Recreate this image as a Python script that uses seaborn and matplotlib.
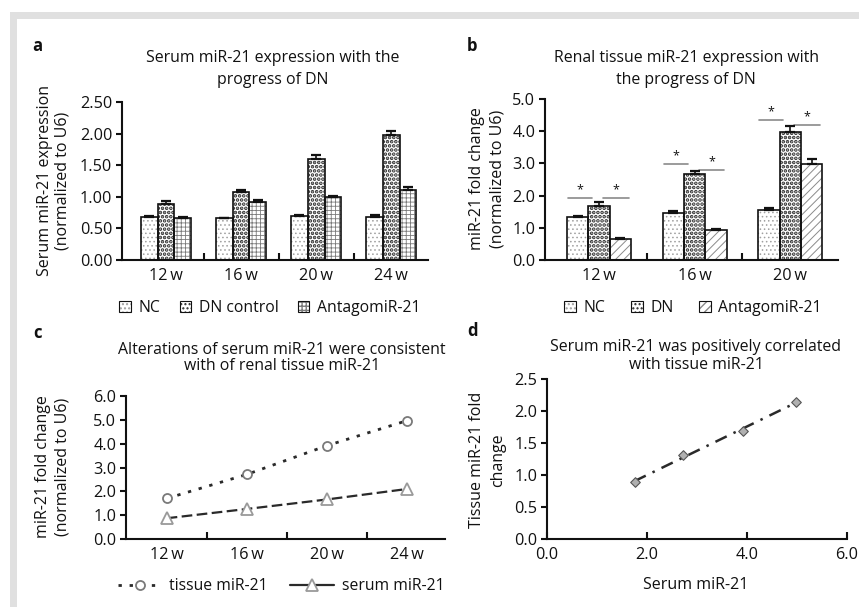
import numpy as np
import pandas as pd
import matplotlib
matplotlib.use("Agg")
import matplotlib.pyplot as plt
import matplotlib.patches as mpatches
from matplotlib.lines import Line2D
from matplotlib.ticker import FormatStrFormatter, FixedLocator
import seaborn as sns

# ---------------- data ----------------
weeks_a = ["12\u2009w", "16\u2009w", "20\u2009w", "24\u2009w"]
groups_a = ["NC", "DN control", "AntagomiR-21"]
nc_a = [0.68, 0.66, 0.70, 0.68]
dn_a = [0.89, 1.07, 1.60, 1.98]
ant_a = [0.67, 0.92, 0.99, 1.11]
nc_a_err = [0.01, 0.01, 0.01, 0.03]
dn_a_err = [0.05, 0.04, 0.06, 0.06]
ant_a_err = [0.01, 0.03, 0.03, 0.05]

weeks_b = ["12\u2009w", "16\u2009w", "20\u2009w"]
groups_b = ["NC", "DN", "AntagomiR-21"]
nc_b = [1.35, 1.45, 1.56]
dn_b = [1.68, 2.66, 3.98]
ant_b = [0.64, 0.93, 2.99]
nc_b_err = [0.02, 0.07, 0.07]
dn_b_err = [0.11, 0.11, 0.19]
ant_b_err = [0.05, 0.02, 0.15]
sig_left_b = [1.94, 2.99, 4.36]
sig_right_b = [1.94, 2.80, 4.18]

weeks_c = ["12\u2009w", "16\u2009w", "20\u2009w", "24\u2009w"]
tissue_c = [1.70, 2.71, 3.92, 4.97]
serum_c = [0.87, 1.26, 1.66, 2.10]

serum_d = [1.75, 2.72, 3.92, 4.97]
tissue_d = [0.89, 1.31, 1.69, 2.14]

# ---------------- style ----------------
sns.set_theme(style="white")
plt.rcParams["font.family"] = ["Open Sans", "DejaVu Sans"]
TXT = "#111111"
plt.rcParams["text.color"] = TXT
plt.rcParams["axes.labelcolor"] = TXT
plt.rcParams["xtick.color"] = TXT
plt.rcParams["ytick.color"] = TXT

W, H = 859, 607
fig = plt.figure(figsize=(W / 100, H / 100), dpi=100)
fig.patch.set_facecolor("white")


def fx(x):
    return x / W


def fy(y):
    return 1 - y / H


def axes_px(l, t, r, b):
    return fig.add_axes([fx(l), fy(b), (r - l) / W, (b - t) / H])


# gray frame
fig.patches.append(mpatches.Rectangle((fx(10), fy(19)), 1, 7 / H, transform=fig.transFigure,
                                      facecolor="#e0e0e0", edgecolor="none", zorder=0))
fig.patches.append(mpatches.Rectangle((fx(10), 0), 7 / W, fy(12), transform=fig.transFigure,
                                      facecolor="#e0e0e0", edgecolor="none", zorder=0))

TICK_FS = 11.7
TITLE_FS = 11.4
LAB_FS = 11.5
LEG_FS = 11.3
SPINE_LW = 1.5


def style_axes(ax):
    sns.despine(ax=ax)
    for s in ["left", "bottom"]:
        ax.spines[s].set_linewidth(SPINE_LW)
        ax.spines[s].set_color(TXT)
    ax.tick_params(axis="y", which="major", direction="out", length=4, width=SPINE_LW,
                   labelsize=TICK_FS, pad=3, left=True)
    ax.grid(False)
    ax.set_xlabel("")
    ax.set_ylabel("")


def cat_ticks(ax, n):
    ax.tick_params(axis="x", which="major", length=0, labelsize=TICK_FS, pad=6)
    ax.xaxis.set_minor_locator(FixedLocator([i + 0.5 for i in range(n - 1)]))
    ax.tick_params(axis="x", which="minor", direction="in", length=5, width=SPINE_LW, bottom=True)


def hatch_bars(ax, styles, errs):
    for cont, (hatch, hcol, hlw), err in zip(ax.containers, styles, errs):
        for bar, e in zip(cont, err):
            bar.set_hatch(hatch)
            bar.set_edgecolor(hcol)
            bar.set_facecolor("white")
            bar.set_linewidth(0)
            if hasattr(bar, "set_hatch_linewidth"):
                bar.set_hatch_linewidth(hlw)
            x, w, h = bar.get_x(), bar.get_width(), bar.get_height()
            ax.add_patch(mpatches.Rectangle((x, 0), w, h, fill=False, edgecolor=TXT,
                                            linewidth=1.2, zorder=3))
            ax.errorbar(x + w / 2, h, yerr=[[0], [e]], fmt="none", ecolor=TXT,
                        elinewidth=1.2, capsize=3.5, capthick=1.6, zorder=4)


def legend_handles(styles):
    hs = []
    for hatch, hcol, hlw in styles:
        p1 = mpatches.Patch(facecolor="white", edgecolor=hcol, hatch=hatch, linewidth=0)
        if hasattr(p1, "set_hatch_linewidth"):
            p1.set_hatch_linewidth(hlw)
        p2 = mpatches.Patch(facecolor="none", edgecolor=TXT, linewidth=0.8)
        hs.append((p1, p2))
    return hs


def two_line(x, y1, y2, l1, l2, **kw):
    fig.text(fx(x), fy(y1), l1, ha="center", va="center", **kw)
    fig.text(fx(x), fy(y2), l2, ha="center", va="center", **kw)


def ylabel2(x1, x2, yc, l1, l2):
    fig.text(fx(x1), fy(yc), l1, rotation=90, ha="center", va="center", fontsize=LAB_FS)
    fig.text(fx(x2), fy(yc), l2, rotation=90, ha="center", va="center", fontsize=LAB_FS)


styles_a = [("....", "#a0a0a0", 0.6), ("....", "#2a2a2a", 1.8), ("++++", "#7a7a7a", 0.6)]
styles_b = [("....", "#a0a0a0", 0.6), ("....", "#2a2a2a", 1.8), ("////", "#8a8a8a", 0.7)]

# ---------------- panel a ----------------
axa = axes_px(122, 102, 428, 260)
df_a = pd.DataFrame({
    "week": weeks_a * 3,
    "group": np.repeat(groups_a, len(weeks_a)),
    "value": nc_a + dn_a + ant_a,
})
sns.barplot(data=df_a, x="week", y="value", hue="group", order=weeks_a, hue_order=groups_a,
            palette=["white"] * 3, width=0.667, errorbar=None, legend=False, ax=axa)
hatch_bars(axa, styles_a, [nc_a_err, dn_a_err, ant_a_err])
axa.set_xlim(-0.587, 3.49)
axa.set_ylim(0, 2.5)
axa.set_yticks(np.arange(0, 2.51, 0.5))
axa.yaxis.set_major_formatter(FormatStrFormatter("%.2f"))
style_axes(axa)
cat_ticks(axa, 4)
fig.legend(legend_handles(styles_a), groups_a, loc="center", bbox_to_anchor=(fx(270), fy(308)),
           ncol=3, frameon=False, fontsize=LEG_FS, handlelength=0.75, handleheight=0.75,
           handletextpad=0.5, columnspacing=1.2)
two_line(273, 58, 80, "Serum miR-21 expression with the", "progress of DN", fontsize=TITLE_FS)
ylabel2(45, 63, 181, "Serum miR-21 expression", "(normalized to U6)")
fig.text(fx(37), fy(46), "a", fontsize=12, fontweight="bold", ha="center", va="center")

# ---------------- panel b ----------------
axb = axes_px(545, 99, 838, 260)
df_b = pd.DataFrame({
    "week": weeks_b * 3,
    "group": np.repeat(groups_b, len(weeks_b)),
    "value": nc_b + dn_b + ant_b,
})
sns.barplot(data=df_b, x="week", y="value", hue="group", order=weeks_b, hue_order=groups_b,
            palette=["white"] * 3, width=0.67, errorbar=None, legend=False, ax=axb)
hatch_bars(axb, styles_b, [nc_b_err, dn_b_err, ant_b_err])
# significance marks
nc_bars, dn_bars, ant_bars = axb.containers[0], axb.containers[1], axb.containers[2]
for i in range(len(weeks_b)):
    b0, b1, b2 = nc_bars[i], dn_bars[i], ant_bars[i]
    w = b0.get_width()
    xl0, xl1 = b0.get_x() + 0.05 * w, b1.get_x() + 0.17 * w
    xr0, xr1 = b1.get_x() + 0.7 * w, b2.get_x() + 0.9 * w
    axb.plot([xl0, xl1], [sig_left_b[i]] * 2, color="#8a8a8a", lw=1.2)
    axb.plot([xr0, xr1], [sig_right_b[i]] * 2, color="#8a8a8a", lw=1.2)
    axb.text((xl0 + xl1) / 2, sig_left_b[i] + 0.05, "*", ha="center", va="bottom", fontsize=9)
    axb.text((xr0 + xr1) / 2, sig_right_b[i] + 0.05, "*", ha="center", va="bottom", fontsize=9)
axb.set_xlim(-0.565, 2.5)
axb.set_ylim(0, 5)
axb.set_yticks(np.arange(0, 5.01, 1))
axb.yaxis.set_major_formatter(FormatStrFormatter("%.1f"))
style_axes(axb)
cat_ticks(axb, 3)
fig.legend(legend_handles(styles_b), groups_b, loc="center", bbox_to_anchor=(fx(693), fy(308)),
           ncol=3, frameon=False, fontsize=LEG_FS, handlelength=0.75, handleheight=0.75,
           handletextpad=0.5, columnspacing=1.6)
two_line(686, 58, 80, "Renal tissue miR-21 expression with", "the progress of DN", fontsize=TITLE_FS)
ylabel2(477, 497, 179, "miR-21 fold change", "(normalized to U6)")
fig.text(fx(472), fy(46), "b", fontsize=12, fontweight="bold", ha="center", va="center")

# ---------------- panel c ----------------
axc = axes_px(126, 396, 445, 539)
sns.lineplot(x=weeks_c, y=tissue_c, sort=False, ax=axc, color="#2a2a2a", lw=2.0,
             linestyle=(0, (1.2, 2.8)), marker="o", ms=6.5, mfc="white", mec="#7a7a7a", mew=1.3)
sns.lineplot(x=weeks_c, y=serum_c, sort=False, ax=axc, color="#2a2a2a", lw=1.6,
             linestyle=(0, (4.8, 2.0)), marker="^", ms=8, mfc="white", mec="#9a9a9a", mew=1.3)
axc.set_xlim(-0.507, 3.47)
axc.set_ylim(0, 6)
axc.set_yticks(np.arange(0, 6.01, 1))
axc.yaxis.set_major_formatter(FormatStrFormatter("%.1f"))
style_axes(axc)
cat_ticks(axc, 4)
h_t = Line2D([], [], color="#2a2a2a", lw=2.0, linestyle=(0, (1.2, 2.8)), marker="o", ms=6.5,
             mfc="white", mec="#7a7a7a", mew=1.3)
h_s = Line2D([], [], color="#2a2a2a", lw=1.6, linestyle="-", marker="^", ms=8,
             mfc="white", mec="#9a9a9a", mew=1.3)
fig.legend([h_t, h_s], ["tissue miR-21", "serum miR-21"], loc="center",
           bbox_to_anchor=(fx(281), fy(586)), ncol=2, frameon=False, fontsize=LEG_FS,
           handlelength=2.8, handletextpad=0.5, columnspacing=1.4)
two_line(282, 350, 366, "Alterations of serum miR-21 were consistent",
         "with of renal tissue miR-21", fontsize=TITLE_FS)
ylabel2(43, 63, 467, "miR-21 fold change", "(normalized to U6)")
fig.text(fx(37), fy(333), "c", fontsize=12, fontweight="bold", ha="center", va="center")

# ---------------- panel d ----------------
axd = axes_px(547, 379, 847, 539)
sns.regplot(x=serum_d, y=tissue_d, ci=None, scatter=False, ax=axd,
            line_kws=dict(color="#2a2a2a", lw=1.8, linestyle=(0, (5, 3, 1, 3))))
sns.scatterplot(x=serum_d, y=tissue_d, ax=axd, marker="D", s=24, color="#b0b0b0",
                edgecolor="#555555", linewidth=0.8, zorder=5)
axd.set_xlim(0, 6)
axd.set_ylim(0, 2.5)
axd.set_xticks([0, 2, 4, 6])
axd.set_yticks(np.arange(0, 2.51, 0.5))
axd.xaxis.set_major_formatter(FormatStrFormatter("%.1f"))
axd.yaxis.set_major_formatter(FormatStrFormatter("%.1f"))
style_axes(axd)
axd.tick_params(axis="x", which="major", direction="in", length=5, width=SPINE_LW,
                labelsize=TICK_FS, pad=6, bottom=True)
fig.text(fx(696), fy(585), "Serum miR-21", ha="center", va="center", fontsize=LAB_FS)
two_line(696, 347, 365, "Serum miR-21 was positively correlated", "with tissue miR-21",
         fontsize=TITLE_FS)
ylabel2(477, 498, 460, "Tissue miR-21 fold", "change")
fig.text(fx(472), fy(331), "d", fontsize=12, fontweight="bold", ha="center", va="center")

fig.savefig("out.png", dpi=100, facecolor="white")
